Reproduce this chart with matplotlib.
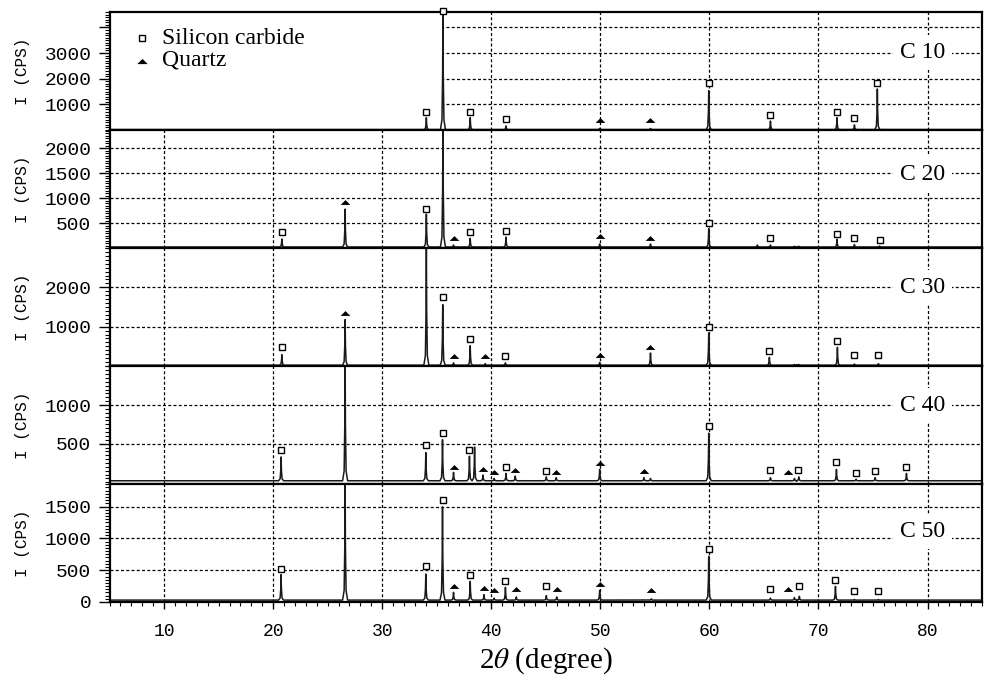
import matplotlib
matplotlib.use("Agg")
import matplotlib.pyplot as plt
from matplotlib.ticker import MultipleLocator, FixedLocator, FixedFormatter
from matplotlib.patches import Rectangle

plt.rcParams['mathtext.fontset'] = 'stix'

MONO = 'Liberation Mono'
SERIF = 'Liberation Serif'

# ---------------- data ----------------
samples = ["C 10", "C 20", "C 30", "C 40", "C 50"]
baselines = [15, 20, 20, 20, 30]

c10_peak_x = [34.05, 35.57, 38.07, 41.35, 49.94, 54.6, 59.94, 65.6, 71.7, 73.3, 75.4]
c10_peak_h = [480, 4800, 480, 160, 60, 60, 1530, 350, 480, 200, 1600]
c10_sic_x = [34.05, 35.57, 38.07, 41.35, 59.94, 65.6, 71.7, 73.3, 75.4]
c10_sic_y = [700, 4650, 700, 420, 1830, 575, 700, 460, 1830]
c10_qtz_x = [49.94, 54.6]
c10_qtz_y = [390, 390]

c20_peak_x = [20.8, 26.6, 34.05, 35.57, 36.54, 38.07, 41.35, 49.94, 54.6, 59.94, 64.4, 65.6, 67.8, 68.2, 71.7, 73.3, 75.6]
c20_peak_h = [180, 780, 680, 2500, 60, 195, 220, 80, 80, 390, 60, 60, 35, 35, 175, 70, 40]
c20_sic_x = [20.8, 34.05, 38.07, 41.35, 59.94, 65.6, 71.7, 73.3, 75.6]
c20_sic_y = [330, 780, 330, 340, 510, 210, 275, 210, 160]
c20_qtz_x = [26.6, 36.54, 49.94, 54.6]
c20_qtz_y = [915, 210, 240, 210]

c30_peak_x = [20.8, 26.6, 34.05, 35.55, 36.54, 38.07, 39.45, 41.3, 49.94, 54.6, 59.94, 65.5, 67.8, 68.2, 71.74, 73.3, 75.5]
c30_peak_h = [287, 1178, 3100, 1560, 80, 515, 60, 80, 90, 330, 838, 219, 40, 40, 473, 50, 60]
c30_sic_x = [20.8, 35.55, 38.07, 41.3, 59.94, 65.5, 71.74, 73.3, 75.5]
c30_sic_y = [473, 1753, 685, 262, 982, 389, 626, 277, 277]
c30_qtz_x = [26.6, 36.54, 39.45, 49.94, 54.6]
c30_qtz_y = [1346, 244, 244, 287, 473]

c40_peak_x = [20.73, 26.6, 34.0, 35.53, 36.54, 38.0, 38.47, 39.24, 40.27, 41.35, 42.2, 45.05, 45.96, 49.94,
              54.0, 54.6, 59.94, 65.6, 67.8, 68.2, 71.65, 73.45, 75.2, 78.07]
c40_peak_h = [328, 1600, 385, 551, 128, 337, 456, 94, 50, 115, 80, 70, 60, 167,
              60, 50, 636, 60, 50, 70, 167, 40, 60, 115]
c40_sic_x = [20.73, 34.0, 35.53, 38.0, 41.35, 45.05, 59.94, 65.6, 68.1, 71.65, 73.45, 75.2, 78.07]
c40_sic_y = [423, 487, 641, 423, 200, 149, 726, 158, 158, 264, 123, 149, 200]
c40_qtz_x = [36.54, 39.24, 40.27, 42.2, 45.96, 49.94, 54.0, 67.2]
c40_qtz_y = [192, 174, 128, 158, 136, 251, 145, 136]

c50_peak_x = [20.73, 26.6, 34.0, 35.53, 36.54, 38.07, 39.33, 40.27, 41.3, 42.3, 45.05, 46.0, 49.94, 54.68,
              59.94, 65.6, 67.8, 68.25, 71.56, 73.3, 75.5, 81.5]
c50_peak_h = [430, 1900, 440, 1494, 151, 324, 115, 60, 230, 80, 100, 80, 182, 50,
              717, 60, 70, 90, 245, 40, 40, 30]
c50_sic_x = [20.73, 34.0, 35.53, 38.07, 41.3, 45.05, 59.94, 65.6, 68.25, 71.56, 73.3, 75.5]
c50_sic_y = [524, 560, 1608, 424, 335, 245, 833, 204, 245, 350, 167, 167]
c50_qtz_x = [36.54, 39.33, 40.27, 42.3, 46.0, 49.94, 54.68, 67.2]
c50_qtz_y = [256, 220, 182, 209, 209, 283, 182, 204]

peak_x = [c10_peak_x, c20_peak_x, c30_peak_x, c40_peak_x, c50_peak_x]
peak_h = [c10_peak_h, c20_peak_h, c30_peak_h, c40_peak_h, c50_peak_h]
sic_x = [c10_sic_x, c20_sic_x, c30_sic_x, c40_sic_x, c50_sic_x]
sic_y = [c10_sic_y, c20_sic_y, c30_sic_y, c40_sic_y, c50_sic_y]
qtz_x = [c10_qtz_x, c20_qtz_x, c30_qtz_x, c40_qtz_x, c50_qtz_x]
qtz_y = [c10_qtz_y, c20_qtz_y, c30_qtz_y, c40_qtz_y, c50_qtz_y]

y_limits = [(0, 4600), (0, 2370), (0, 3000), (-22, 1505), (0, 1855)]
y_ticks = [[1000, 2000, 3000, 4000], [500, 1000, 1500, 2000], [1000, 2000], [500, 1000], [0, 500, 1000, 1500]]
y_tick_labels = [["1000", "2000", "3000", ""], ["500", "1000", "1500", "2000"], ["1000", "2000"],
                 ["500", "1000"], ["0", "500", "1000", "1500"]]
y_minor = [100, 50, 100, 50, 50]
label_ypos = [0.658, 0.627, 0.663, 0.664, 0.60]

x_range = (5, 85)
x_ticks = [10, 20, 30, 40, 50, 60, 70, 80]

# peak outline used to draw each reflection (offsets in degrees, fraction of height)
shape_dx = [-0.23, -0.09, -0.03, 0.0, 0.03, 0.09, 0.23]
shape_f = [0.0, 0.08, 0.45, 1.0, 0.45, 0.08, 0.0]

tri_marker = [(-1, -0.5), (1, -0.5), (0, 0.5)]

# ---------------- figure ----------------
fig, axes = plt.subplots(5, 1, figsize=(9.85, 6.78), dpi=100, sharex=True,
                         gridspec_kw=dict(hspace=0, left=0.1112, right=0.997, top=0.9823, bottom=0.1121))

for i, ax in enumerate(axes):
    base = baselines[i]
    xs, ys = [x_range[0]], [base]
    for x, h in sorted(zip(peak_x[i], peak_h[i])):
        for dx, f in zip(shape_dx, shape_f):
            xs.append(x + dx)
            ys.append(base + f * (h - base))
    xs.append(x_range[1])
    ys.append(base)
    ax.plot(xs, ys, color='#1a1a1a', lw=1.1, zorder=2)

    ax.plot(sic_x[i], sic_y[i], ls='none', marker='s', ms=4.2, mfc='white', mec='black', mew=1.0,
            clip_on=False, zorder=4)
    ax.plot(qtz_x[i], qtz_y[i], ls='none', marker=tri_marker, ms=7, mfc='black', mec='none', mew=0,
            clip_on=False, zorder=4)

    ax.set_xlim(*x_range)
    ax.set_ylim(*y_limits[i])
    ax.yaxis.set_major_locator(FixedLocator(y_ticks[i]))
    ax.yaxis.set_major_formatter(FixedFormatter(y_tick_labels[i]))
    ax.yaxis.set_minor_locator(MultipleLocator(y_minor[i]))
    ax.xaxis.set_major_locator(FixedLocator(x_ticks))
    ax.xaxis.set_minor_locator(MultipleLocator(1))

    ax.set_axisbelow(True)
    ax.grid(True, which='major', color='black', lw=0.9, linestyle=(0, (2.4, 1.8)))

    ax.tick_params(axis='y', which='major', direction='out', length=8, width=1.0, pad=5,
                   labelsize=14, left=True, right=False)
    ax.tick_params(axis='y', which='minor', direction='out', length=3.5, width=0.8, left=True, right=False)
    for lab in ax.get_yticklabels():
        lab.set_family(MONO)

    for sp in ax.spines.values():
        sp.set_linewidth(1.6)
        sp.set_zorder(3)

    ax.set_ylabel('I (CPS)', family=MONO, fontsize=11.5, va='center')
    ax.yaxis.set_label_coords(-0.1, 0.5)

    ax.text(0.958, label_ypos[i], samples[i], transform=ax.transAxes, ha='right', va='center',
            family=SERIF, fontsize=17, zorder=3,
            bbox=dict(boxstyle='square,pad=0.3', fc='white', ec='none'))

    if i < 4:
        ax.tick_params(axis='x', which='both', length=0, labelbottom=False)
    else:
        ax.tick_params(axis='x', which='major', direction='out', length=5, width=1.0, pad=10, labelsize=13)
        ax.tick_params(axis='x', which='minor', direction='out', length=3, width=0.8)
        for lab in ax.get_xticklabels():
            lab.set_family(MONO)

# legend area in the top panel
ax0 = axes[0]
ax0.add_patch(Rectangle((0, 0), 0.381, 1, transform=ax0.transAxes, fc='white', ec='none', zorder=0.8))
ax0.plot([0.037], [0.778], transform=ax0.transAxes, ls='none', marker='s', ms=4.2, mfc='white',
         mec='black', mew=1.0, zorder=4)
ax0.plot([0.037], [0.585], transform=ax0.transAxes, ls='none', marker=tri_marker, ms=7.5,
         mfc='black', mec='none', mew=0, zorder=4)
ax0.text(0.060, 0.778, 'Silicon carbide', transform=ax0.transAxes, ha='left', va='center',
         family=SERIF, fontsize=17)
ax0.text(0.060, 0.59, 'Quartz', transform=ax0.transAxes, ha='left', va='center',
         family=SERIF, fontsize=17)

fig.text(0.554, 0.026, r'2$\theta$ (degree)', ha='center', va='center', family=SERIF, fontsize=21)

fig.savefig('out.png', dpi=100)
